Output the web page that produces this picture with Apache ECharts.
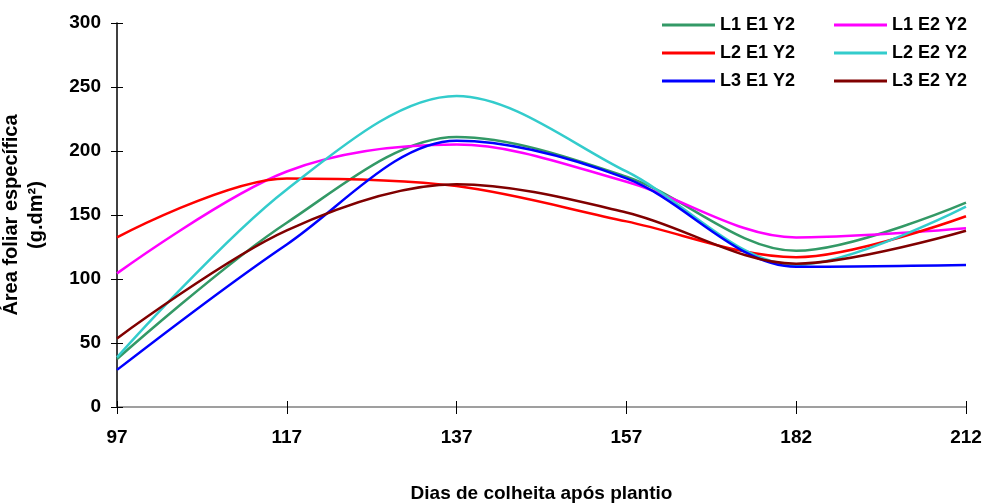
<!DOCTYPE html>
<html><head><meta charset="utf-8">
<script src="https://cdn.jsdelivr.net/npm/echarts@6/dist/echarts.min.js"></script>
<style>html,body{margin:0;padding:0;background:#fff}#c{width:986px;height:504px}</style>
</head><body><div id="c"></div>
<script>
const categories = ['97','117','137','157','182','212'];
const L1E1Y2 = [37.5, 144, 211, 180, 122, 159.6];
const L1E2Y2 = [104.4, 184, 205, 176, 132.5, 139.6];
const L2E1Y2 = [132.5, 178.6, 172.6, 145, 117, 149];
const L2E2Y2 = [38.8, 170, 243, 184, 111, 156.5];
const L3E1Y2 = [29, 127, 208, 178.6, 109.6, 111];
const L3E2Y2 = [53.6, 138, 174, 152, 112, 137.7];
const yTicks = [0, 50, 100, 150, 200, 250, 300];

const F = '"Liberation Sans", Arial, sans-serif';
function s(name, data, color) {
  return { name, type: 'line', data, smooth: 0.33, symbol: 'none', showSymbol: false,
    lineStyle: { color, width: 2.5 }, itemStyle: { color }, xAxisIndex: 0, yAxisIndex: 0 };
}
const legendCommon = {
  orient: 'vertical', top: 15, padding: 0, icon: 'rect', itemWidth: 53, itemHeight: 3, itemGap: 8,
  textStyle: { fontFamily: F, fontWeight: 'bold', fontSize: 18, color: '#000', lineHeight: 20 }
};
const chart = echarts.init(document.getElementById('c'));
chart.setOption({
  animation: false,
  grid: { left: 117, right: 20, top: 23, bottom: 97, containLabel: false, outerBoundsMode: 'none' },
  legend: [
    Object.assign({ left: 662, data: ['L1 E1 Y2', 'L2 E1 Y2', 'L3 E1 Y2'] }, legendCommon),
    Object.assign({ left: 834, data: ['L1 E2 Y2', 'L2 E2 Y2', 'L3 E2 Y2'] }, legendCommon)
  ],
  xAxis: [{
    type: 'category', data: categories, boundaryGap: false,
    name: 'Dias de colheita após plantio', nameLocation: 'middle', nameGap: 77,
    nameTextStyle: { fontFamily: F, fontWeight: 'bold', fontSize: 19, color: '#000' },
    axisLine: { lineStyle: { color: '#808080', width: 1.5 } },
    axisTick: { show: true, length: 7, lineStyle: { color: '#000' } },
    axisLabel: { fontFamily: F, fontWeight: 'bold', fontSize: 19, color: '#000', margin: 21 },
    splitLine: { show: false }
  }, {
    type: 'category', data: categories, boundaryGap: false, position: 'bottom',
    axisLine: { show: false }, axisLabel: { show: false },
    axisTick: { show: true, inside: true, length: 6, lineStyle: { color: '#000' } }
  }],
  yAxis: [{
    type: 'value', min: 0, max: 300, interval: 50,
    name: 'Área foliar específica\n(g.dm²)', nameLocation: 'middle', nameGap: 68, nameRotate: 90,
    nameTextStyle: { fontFamily: F, fontWeight: 'bold', fontSize: 20, color: '#000', lineHeight: 25, align: 'center' },
    axisLine: { show: true, lineStyle: { color: '#000', width: 1.5 } },
    axisTick: { show: true, length: 6, lineStyle: { color: '#000' } },
    axisLabel: { fontFamily: F, fontWeight: 'bold', fontSize: 19, color: '#000', margin: 16,
      formatter: v => yTicks.includes(v) ? String(v) : '' },
    splitLine: { show: false }
  }, {
    type: 'value', min: 0, max: 300, interval: 50, position: 'left',
    axisLine: { show: false }, axisLabel: { show: false }, splitLine: { show: false },
    axisTick: { show: true, inside: true, length: 6, lineStyle: { color: '#000' } }
  }],
  series: [
    s('L1 E1 Y2', L1E1Y2, '#339966'),
    s('L1 E2 Y2', L1E2Y2, '#FF00FF'),
    s('L2 E1 Y2', L2E1Y2, '#FF0000'),
    s('L2 E2 Y2', L2E2Y2, '#33CCCC'),
    s('L3 E1 Y2', L3E1Y2, '#0000FF'),
    s('L3 E2 Y2', L3E2Y2, '#800000')
  ]
});
</script></body></html>
